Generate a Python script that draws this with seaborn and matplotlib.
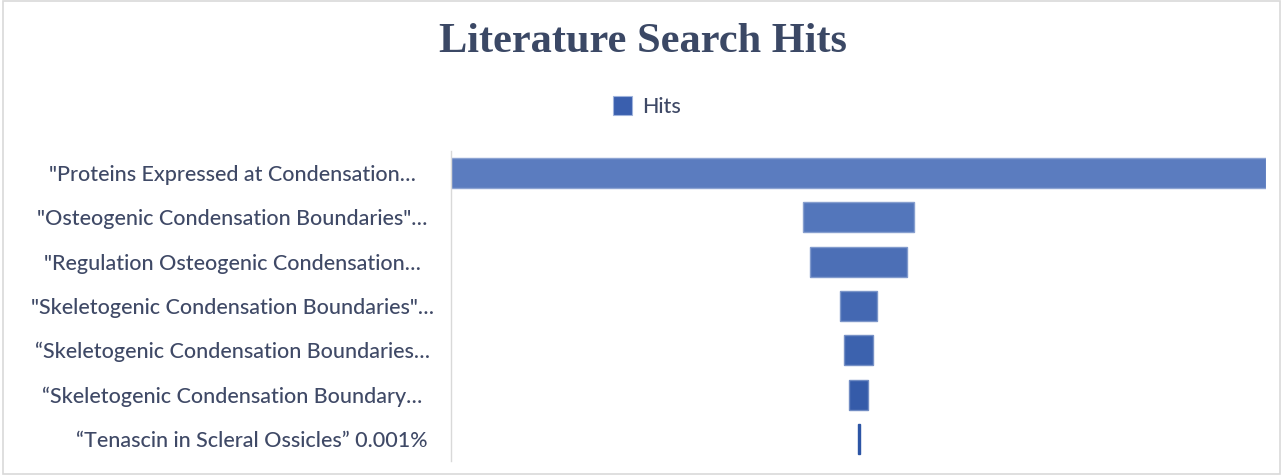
import matplotlib
matplotlib.use("Agg")
import matplotlib.pyplot as plt
import matplotlib.transforms as mtransforms
import seaborn as sns
import pandas as pd
import numpy as np
from matplotlib.patches import Rectangle

categories = [
    '"Proteins Expressed at Condensation…',
    '"Osteogenic Condensation Boundaries"…',
    '"Regulation Osteogenic Condensation…',
    '"Skeletogenic Condensation Boundaries"…',
    '\u201cSkeletogenic Condensation Boundaries…',
    '\u201cSkeletogenic Condensation Boundary…',
    '\u201cTenascin in Scleral Ossicles\u201d 0.001%',
]
hits = [815, 111, 97, 37, 29, 19, 2]
series_name = "Hits"
title = "Literature Search Hits"

sns.set_theme(style="white")
plt.rcParams['font.family'] = ['Lato', 'DejaVu Sans']

df = pd.DataFrame({"category": categories, "hits": hits})
colors = sns.blend_palette(["#5b7cbf", "#2d55a5"], n_colors=len(categories))

fig = plt.figure(figsize=(12.83, 4.75), dpi=100)
ax = fig.add_axes([451/1283, 1 - 461/475, (1266-451)/1283, (461-151)/475])

sns.barplot(data=df, x="hits", y="category", hue="category", palette=colors,
            orient="h", width=0.68, legend=False, ax=ax, saturation=1,
            linewidth=1.0)

# centre each bar to form a funnel, with a light rim like the original
mx = max(hits)
for p in ax.patches:
    w = p.get_width()
    p.set_x(-w / 2)
    fc = np.array(p.get_facecolor()[:3])
    if w > 0.02 * mx:
        p.set_edgecolor(tuple(fc + (1 - fc) * 0.3))
    else:
        p.set_edgecolor(tuple(fc))
ax.set_xlim(-mx / 2, mx / 2)
ax.set_ylim(len(categories) - 0.5, -0.5)

ax.set_xlabel("")
ax.set_ylabel("")
ax.set_xticks([])
for s in ["top", "right", "bottom"]:
    ax.spines[s].set_visible(False)
ax.spines["left"].set_color("#d9d9d9")
ax.spines["left"].set_linewidth(1.0)

label_color = "#3f4966"
ax.tick_params(axis="y", length=0, pad=(451 - 232) * 72 / 100, labelsize=15.5,
               labelcolor=label_color)
labels = ax.get_yticklabels()
for lab in labels:
    lab.set_horizontalalignment("center")
    lab.set_fontweight("medium")
labels[-1].set_transform(labels[-1].get_transform() +
                         mtransforms.ScaledTranslation(20 / 100, 0, fig.dpi_scale_trans))

# title
fig.text(643 / 1283, 1 - 42 / 475, title, ha="center", va="center",
         fontsize=30.5, fontweight="bold", family=["Liberation Serif", "DejaVu Serif"],
         color="#3b4865")

# legend
fig.patches.append(Rectangle((613 / 1283, 1 - 115 / 475), 19 / 1283, 19 / 475,
                             transform=fig.transFigure, facecolor="#3a5fae",
                             edgecolor="#9fb3dc", linewidth=0.8))
fig.text(642 / 1283, 1 - 107 / 475, series_name, ha="left", va="center",
         fontsize=15.5, color=label_color, fontweight="medium")

# chart border
fig.patches.append(Rectangle((0.002, 0.002), 0.996, 0.996, transform=fig.transFigure,
                             facecolor="none", edgecolor="#d9d9d9", linewidth=1.2))

fig.savefig("out.png", dpi=100)
